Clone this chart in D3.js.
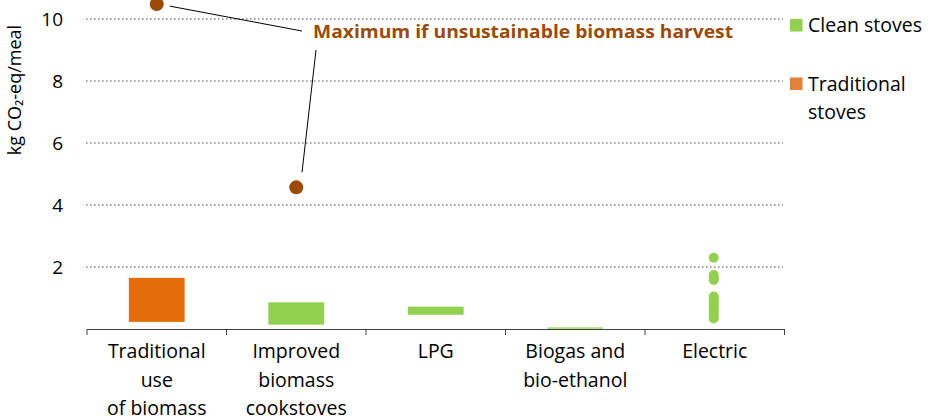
<!DOCTYPE html>
<html>
<head>
<meta charset="utf-8">
<script src="https://cdn.jsdelivr.net/npm/d3@7"></script>
<style>
  body { margin: 0; background: #fff; }
  text { font-family: "Open Sans", sans-serif; }
</style>
</head>
<body>
<div id="chart"></div>
<script>
const categories = ["Traditional use of biomass", "Improved biomass cookstoves", "LPG", "Biogas and bio-ethanol", "Electric"]
const categoryLines = [["Traditional", "use", "of biomass"], ["Improved", "biomass", "cookstoves"], ["LPG"], ["Biogas and", "bio-ethanol"], ["Electric"]]
// ranges: [low, high, type]
const ranges = [
  {cat: "Traditional use of biomass", low: 0.23, high: 1.65, type: "traditional"},
  {cat: "Improved biomass cookstoves", low: 0.14, high: 0.86, type: "clean"},
  {cat: "LPG", low: 0.46, high: 0.72, type: "clean"},
  {cat: "Biogas and bio-ethanol", low: 0.01, high: 0.05, type: "clean"},
]
const electricPoints = [2.3, 1.74, 1.66, 1.58, 1.05, 0.97, 0.89, 0.81, 0.73, 0.65, 0.57, 0.49, 0.41, 0.34]
const maxPoints = [
  {cat: "Traditional use of biomass", value: 10.48},
  {cat: "Improved biomass cookstoves", value: 4.57},
]
const yTicks = [2, 4, 6, 8, 10]
const legendItems = [
  {label: ["Clean stoves"], color: "#92D050"},
  {label: ["Traditional", "stoves"], color: "#E0823E"},
]

const width = 933, height = 420
const colors = {clean: "#92D050", traditional: "#E46C0A"}

const svg = d3.select("#chart").append("svg")
  .attr("width", width)
  .attr("height", height)

const x = d3.scaleBand()
  .domain(categories)
  .range([87, 784.5])
  .padding(0)

const y = d3.scaleLinear()
  .domain([0, 10])
  .range([329, 19])

// gridlines
svg.append("g")
  .selectAll("line")
  .data(yTicks)
  .join("line")
    .attr("x1", 86)
    .attr("x2", 783)
    .attr("y1", d => y(d))
    .attr("y2", d => y(d))
    .attr("stroke", "#A6A6A6")
    .attr("stroke-width", 2)
    .attr("stroke-dasharray", "1.6,2.4")

// y tick labels
svg.append("g")
  .selectAll("text")
  .data(yTicks)
  .join("text")
    .attr("x", 63)
    .attr("y", d => y(d))
    .attr("dy", "0.36em")
    .attr("text-anchor", "end")
    .attr("font-size", 19)
    .attr("fill", "#000")
    .text(d => d)

// y axis title
svg.append("text")
  .attr("transform", "translate(21,90) rotate(-90)")
  .attr("text-anchor", "middle")
  .attr("font-size", 18)
  .attr("fill", "#000")
  .text("kg CO\u2082-eq/meal")

// x axis
const xAxis = svg.append("g")
xAxis.append("line")
  .attr("x1", x.range()[0])
  .attr("x2", x.range()[1])
  .attr("y1", y(0) + 0.5)
  .attr("y2", y(0) + 0.5)
  .attr("stroke", "#404040")
xAxis.selectAll("line.tick")
  .data(categories.concat([null]))
  .join("line")
    .attr("class", "tick")
    .attr("x1", d => d === null ? x.range()[1] : x(d))
    .attr("x2", d => d === null ? x.range()[1] : x(d))
    .attr("y1", y(0))
    .attr("y2", y(0) + 6)
    .attr("stroke", "#404040")

const labels = xAxis.selectAll("text")
  .data(categories)
  .join("text")
    .attr("x", d => x(d) + x.bandwidth() / 2)
    .attr("y", 358)
    .attr("text-anchor", "middle")
    .attr("font-size", 19.5)
    .attr("fill", "#000")
labels.selectAll("tspan")
  .data((d, i) => categoryLines[i])
  .join("tspan")
    .attr("x", function() { return this.parentNode.getAttribute("x") })
    .attr("dy", (d, i) => i === 0 ? 0 : 28.5)
    .text(d => d)

// range bars
const barW = x.bandwidth() * 0.4
svg.append("g")
  .selectAll("rect")
  .data(ranges)
  .join("rect")
    .attr("x", d => x(d.cat) + (x.bandwidth() - barW) / 2)
    .attr("y", d => y(d.high))
    .attr("width", barW)
    .attr("height", d => y(d.low) - y(d.high))
    .attr("fill", d => colors[d.type])

// electric points
svg.append("g")
  .selectAll("circle")
  .data(electricPoints)
  .join("circle")
    .attr("cx", x("Electric") + x.bandwidth() / 2 - 1)
    .attr("cy", d => y(d))
    .attr("r", 5)
    .attr("fill", colors.clean)

// maximum points
svg.append("g")
  .selectAll("circle")
  .data(maxPoints)
  .join("circle")
    .attr("cx", d => x(d.cat) + x.bandwidth() / 2)
    .attr("cy", d => y(d.value))
    .attr("r", 7)
    .attr("fill", "#9C4A06")

// annotation
const p0 = maxPoints[0], p1 = maxPoints[1]
svg.append("line")
  .attr("x1", x(p0.cat) + x.bandwidth() / 2 + 13)
  .attr("y1", y(p0.value) + 2)
  .attr("x2", 302)
  .attr("y2", 31)
  .attr("stroke", "#000")
svg.append("line")
  .attr("x1", 316)
  .attr("y1", 50)
  .attr("x2", 302)
  .attr("y2", y(p1.value) - 15)
  .attr("stroke", "#000")
svg.append("text")
  .attr("x", 313)
  .attr("y", 38)
  .attr("font-size", 18.5)
  .attr("font-weight", "bold")
  .attr("fill", "#9C4A06")
  .attr("textLength", 420)
  .attr("lengthAdjust", "spacingAndGlyphs")
  .text("Maximum if unsustainable biomass harvest")

// legend
const legend = svg.append("g")
  .selectAll("g")
  .data(legendItems)
  .join("g")
    .attr("transform", (d, i) => `translate(790,${19 + i * 58.5})`)
legend.append("rect")
  .attr("width", 12.5)
  .attr("height", 12.5)
  .attr("fill", d => d.color)
legend.append("text")
  .attr("x", 18)
  .attr("y", 13)
  .attr("font-size", 19.5)
  .attr("fill", "#000")
  .selectAll("tspan")
  .data(d => d.label)
  .join("tspan")
    .attr("x", 18)
    .attr("dy", (d, i) => i === 0 ? 0 : 28)
    .text(d => d)
</script>
</body>
</html>
